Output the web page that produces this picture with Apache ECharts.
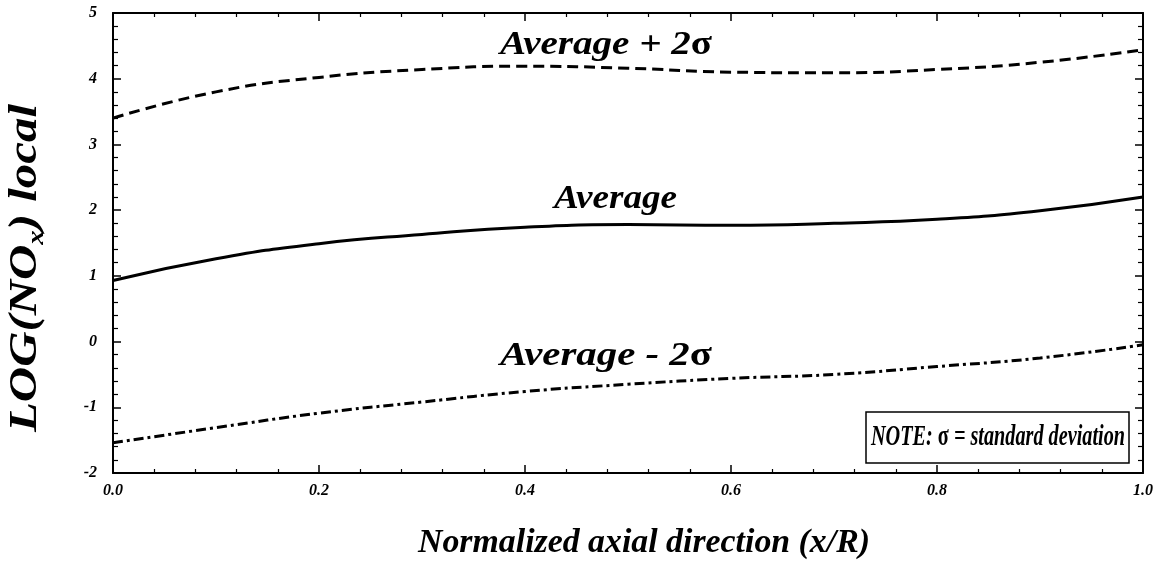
<!DOCTYPE html>
<html>
<head>
<meta charset="utf-8">
<script src="https://cdn.jsdelivr.net/npm/echarts@6/dist/echarts.min.js"></script>
<style>
html,body{margin:0;padding:0;background:#fff;}
#chart{width:1157px;height:562px;}
</style>
</head>
<body>
<div id="chart"></div>
<script>
// Data
var xPositions = [0, 0.1, 0.2, 0.3, 0.4, 0.5, 0.6, 0.7, 0.8, 0.9, 1.0];
var avgPlus2Sigma = [3.40, 3.80, 4.02, 4.14, 4.19, 4.16, 4.10, 4.09, 4.14, 4.25, 4.44];
var average = [0.93, 1.26, 1.49, 1.63, 1.74, 1.78, 1.77, 1.80, 1.86, 1.99, 2.20];
var avgMinus2Sigma = [-1.54, -1.31, -1.09, -0.92, -0.76, -0.65, -0.56, -0.50, -0.38, -0.25, -0.05];
var xTickLabels = ['0.0', '0.2', '0.4', '0.6', '0.8', '1.0'];
var yTickLabels = ['-2', '-1', '0', '1', '2', '3', '4', '5'];

function pairs(ys) { return xPositions.map(function (x, i) { return [x, ys[i]]; }); }

var serif = '"Liberation Serif", "DejaVu Serif", serif';
var chart = echarts.init(document.getElementById('chart'), null, {renderer: 'canvas'});

// text measuring helper to fit widths seen in the reference
var mctx = document.createElement('canvas').getContext('2d');
function fontStr(style, size) { return style + ' bold ' + size + 'px ' + serif; }
function widthOf(parts) {
  var w = 0;
  parts.forEach(function (p) { mctx.font = fontStr(p[1], p[2]); w += mctx.measureText(p[0]).width; });
  return w;
}
function richStyle(style, size, extra) {
  var o = {fill: '#000', fontFamily: serif, fontStyle: style, fontWeight: 'bold', fontSize: size};
  if (extra) for (var k in extra) o[k] = extra[k];
  return o;
}
// label with upright sigma
function sigmaLabel(pre, sigmaTail, size, x0, width, yMid) {
  var parts = [[pre, 'italic', size]];
  if (sigmaTail) parts.push(['σ', 'normal', size]);
  var w = widthOf(parts);
  return {
    type: 'text', x: x0, y: yMid, scaleX: width / w, z: 50,
    style: {
      text: '{i|' + pre + '}' + (sigmaTail ? '{g|σ}' : ''),
      align: 'left', verticalAlign: 'middle',
      rich: {i: richStyle('italic', size), g: richStyle('normal', size)}
    }
  };
}

function xAxisCfg(pos, showLabels) {
  return {
    type: 'value', position: pos, min: 0, max: 1, interval: 0.2,
    axisLine: {show: true, onZero: false, lineStyle: {color: '#000', width: 2}},
    axisTick: {show: true, inside: true, length: 8, lineStyle: {color: '#000', width: 1.5}},
    minorTick: {show: true, splitNumber: 5, length: 4, lineStyle: {color: '#000', width: 1.2}},
    splitLine: {show: false},
    axisLabel: {
      show: showLabels, margin: 10, color: '#000', fontFamily: serif, fontStyle: 'italic',
      fontWeight: 'bold', fontSize: 16,
      formatter: function (v) { return xTickLabels[Math.round(v / 0.2)]; }
    }
  };
}
function yAxisCfg(pos, showLabels) {
  return {
    type: 'value', position: pos, min: -2, max: 5, interval: 1,
    axisLine: {show: true, onZero: false, lineStyle: {color: '#000', width: 2}},
    axisTick: {show: true, inside: true, length: 8, lineStyle: {color: '#000', width: 1.5}},
    minorTick: {show: true, splitNumber: 5, length: 5, lineStyle: {color: '#000', width: 1.2}},
    splitLine: {show: false},
    axisLabel: {
      show: showLabels, margin: 16, color: '#000', fontFamily: serif, fontStyle: 'italic',
      fontWeight: 'bold', fontSize: 16,
      formatter: function (v) { return yTickLabels[Math.round(v + 2)]; }
    }
  };
}

// axis titles
var xTitle = 'Normalized axial direction (x/R)';
var xTitleW = widthOf([[xTitle, 'italic', 34]]);
var ySize = 39, ySub = 23;
var yTitleW = widthOf([['LOG(NO', 'italic', ySize], ['x', 'italic', ySub], [') local', 'italic', ySize]]);
var noteSize = 29;
var noteW = widthOf([['NOTE: ', 'italic', noteSize], ['σ', 'normal', noteSize], [' = standard deviation', 'italic', noteSize]]);

chart.setOption({
  backgroundColor: '#fff',
  animation: false,
  grid: {left: 113, top: 13, right: 14, bottom: 89, containLabel: false},
  xAxis: [xAxisCfg('bottom', true), xAxisCfg('top', false)],
  yAxis: [yAxisCfg('left', true), yAxisCfg('right', false)],
  series: [
    {type: 'line', name: 'Average + 2σ', data: pairs(avgPlus2Sigma), smooth: true, showSymbol: false,
     lineStyle: {color: '#000', width: 3, type: [11, 6]}},
    {type: 'line', name: 'Average', data: pairs(average), smooth: true, showSymbol: false,
     lineStyle: {color: '#000', width: 3, type: 'solid'}},
    {type: 'line', name: 'Average - 2σ', data: pairs(avgMinus2Sigma), smooth: true, showSymbol: false,
     lineStyle: {color: '#000', width: 3, type: [10, 4, 3, 4]}}
  ],
  graphic: [
    sigmaLabel('Average + 2', true, 34, 500, 212, 45),
    sigmaLabel('Average', false, 34, 554, 123, 199),
    sigmaLabel('Average - 2', true, 34, 500, 212, 356),
    {type: 'rect', z: 40, shape: {x: 866, y: 412, width: 263, height: 51}, style: {fill: '#fff', stroke: '#000', lineWidth: 1.5}},
    {type: 'text', x: 871, y: 438, z: 50, scaleX: 254 / noteW,
     style: {
       text: '{i|NOTE: }{g|σ}{i| = standard deviation}', align: 'left', verticalAlign: 'middle',
       rich: {i: richStyle('italic', noteSize), g: richStyle('normal', noteSize)}
     }},
    {type: 'text', x: 644, y: 543, z: 50, scaleX: 452 / xTitleW,
     style: {text: xTitle, align: 'center', verticalAlign: 'middle',
       fill: '#000', fontFamily: serif, fontStyle: 'italic', fontWeight: 'bold', fontSize: 34}},
    {type: 'text', x: 26, y: 268, z: 50, rotation: Math.PI / 2, scaleX: 328 / yTitleW,
     style: {
       text: '{a|LOG(NO}{s|x}{a|) local}', align: 'center', verticalAlign: 'middle',
       rich: {
         a: richStyle('italic', ySize, {lineHeight: 46, verticalAlign: 'middle'}),
         s: richStyle('italic', ySub, {lineHeight: 24, verticalAlign: 'bottom'})
       }
     }}
  ]
});
</script>
</body>
</html>
